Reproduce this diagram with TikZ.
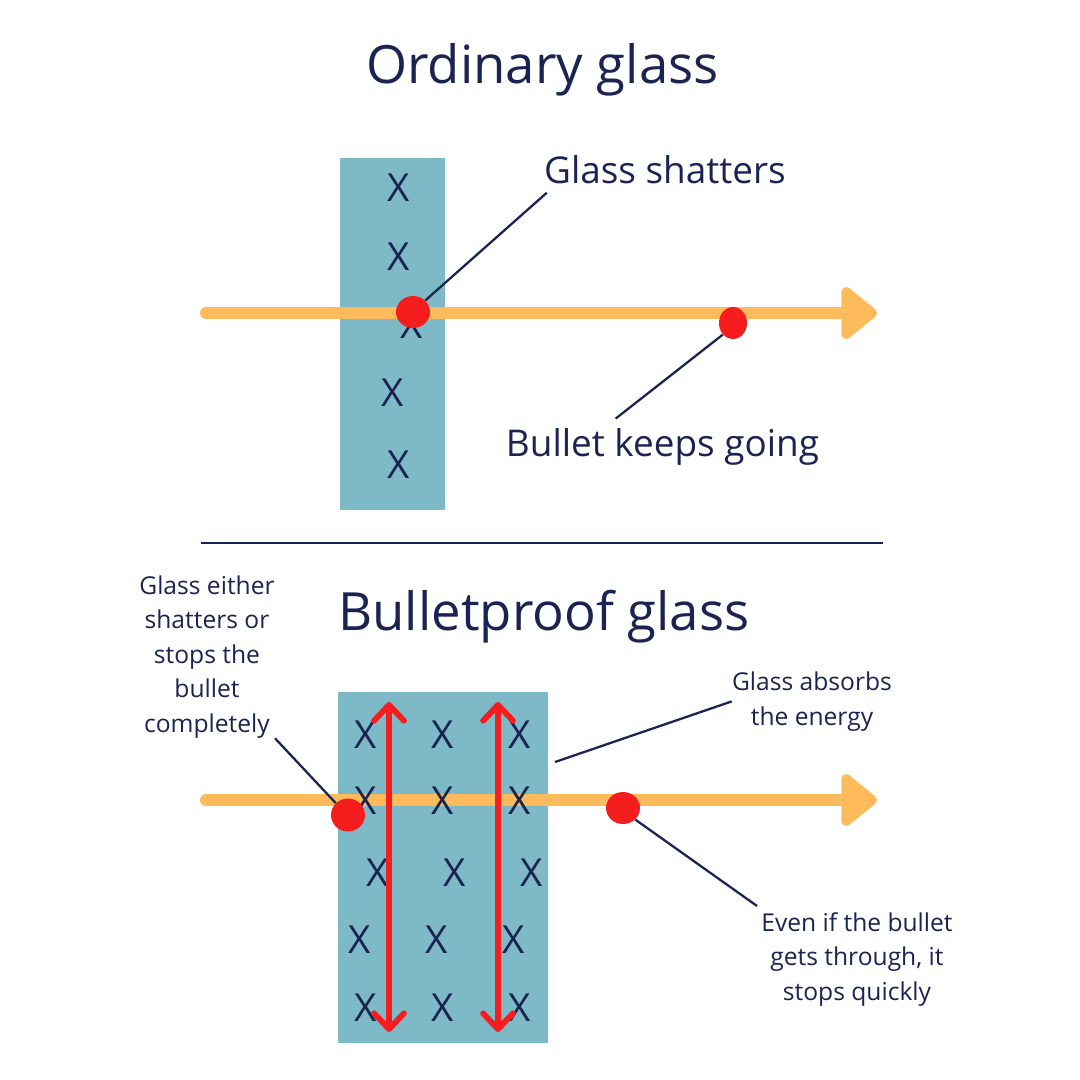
\documentclass[tikz,border=0pt]{standalone}
\usepackage{fontspec}
\setmainfont{Open Sans}
\usetikzlibrary{
    arrows.meta,
    shapes.geometric
}
\definecolor{navy}{HTML}{1B2352}
\definecolor{glass}{HTML}{7DB9C7}
\definecolor{bulletorange}{HTML}{FDBB5C}
\definecolor{shotred}{HTML}{F51D1D}

\begin{document}
\begin{tikzpicture}[
    x=0.02cm, y=-0.02cm,
    every node/.style={text=navy, inner sep=0pt},
    heading/.style={font=\fontsize{30pt}{36pt}\selectfont, anchor=base},
    callout/.style={font=\fontsize{21pt}{26pt}\selectfont, anchor=base},
    note/.style={font=\fontsize{14pt}{19.6pt}\selectfont, align=center, anchor=base},
    xmark/.style={font=\fontsize{22pt}{26pt}\selectfont},
    pane/.style={rectangle, fill=glass, draw=none},
    shot/.style={ellipse, fill=shotred, draw=none},
    trajectory/.style={line width=6.8pt, draw=bulletorange, line cap=round,
        -{Triangle[length=22pt, width=34pt, round]}},
    wave/.style={line width=3.3pt, draw=shotred, line cap=round,
        {Straight Barb[length=9pt, width=17pt, round]}-{Straight Barb[length=9pt, width=17pt, round]}},
    leader/.style={draw=navy, line width=1.3pt},
    rule/.style={draw=navy, line width=1.4pt}
]
\path[use as bounding box] (0,0) rectangle (1080,1080);

% ordinary glass
\node[heading] (otitle) at (542.5,83) {Ordinary glass};
\node[pane, minimum width=2.1cm, minimum height=7.04cm] (opane) at (392.5,334) {};
\foreach \cx/\cy [count=\i] in {399/188, 399/257, 412/325, 393/393, 399/465}
    \node[xmark] (ox\i) at (\cx,\cy) {X};
\coordinate (ostart) at (206,313);
\coordinate (oend) at (877,313);
\draw[trajectory] (ostart) -- (oend);
\node[shot, minimum width=0.68cm, minimum height=0.64cm] (oburst) at (413,312) {};
\node[shot, minimum width=0.56cm, minimum height=0.64cm] (ofree) at (733,323) {};
\node[callout] (shatters) at (665,183) {Glass shatters};
\node[callout] (keeps) at (662.5,456) {Bullet keeps going};
\draw[leader] (oburst.north east) -- ([shift={(3,9)}]shatters.south west);
\draw[leader] (ofree.south west) -- ([shift={(110,-9)}]keeps.north west);

\draw[rule] (201,543) -- (883,543);

% bulletproof glass
\node[heading] (btitle) at (544,630) {Bulletproof glass};
\node[pane, minimum width=4.22cm, minimum height=7.02cm] (bpane) at (443,867.5) {};
\coordinate (bstart) at (206,800);
\coordinate (bend) at (877,800);
\draw[trajectory] (bstart) -- (bend);
\foreach \cy/\dx [count=\r] in {735/0, 801/0, 873/12, 940/-6, 1008/0}
    \foreach \cx [count=\c] in {366,443,520}
        \node[xmark] (bx\r\c) at (\cx+\dx,\cy) {X};
\foreach \wx [count=\i] in {389,498} {
    \coordinate (wtop\i) at (\wx,702);
    \coordinate (wbot\i) at (\wx,1032);
    \draw[wave] (wtop\i) -- (wbot\i);
}
\node[shot, minimum width=0.68cm, minimum height=0.66cm] (bstop) at (348,815) {};
\node[shot, minimum width=0.68cm, minimum height=0.64cm] (bfree) at (623,808) {};
\node[note] (either) at (207,732) {Glass either\\shatters or\\stops the\\bullet\\completely};
\node[note] (absorbs) at (812,725) {Glass absorbs\\the energy};
\node[note] (evenif) at (857,1000) {Even if the bullet\\gets through, it\\stops quickly};
\coordinate (absorbtip) at (555,762);
\draw[leader] (either.south east) -- (bstop.north west);
\draw[leader] (absorbtip) -- (absorbs.west);
\draw[leader] (bfree.south east) -- ([shift={(-4,-6)}]evenif.north west);

\end{tikzpicture}
\end{document}
